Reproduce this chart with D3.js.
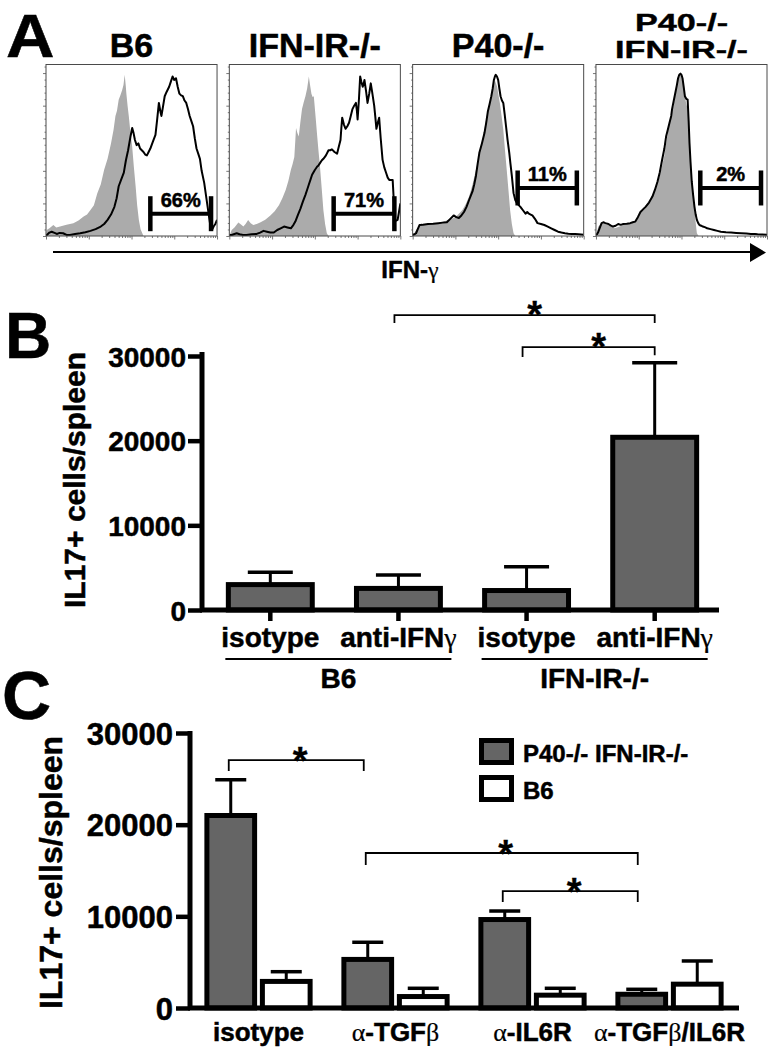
<!DOCTYPE html>
<html><head><meta charset="utf-8">
<script src="https://cdn.jsdelivr.net/npm/d3@7"></script>
<style>
body{margin:0;background:#fff}
svg{display:block}
text{font-family:"Liberation Sans",Arial,sans-serif;font-weight:bold;fill:#000;stroke:#000;stroke-width:0.5px}
</style>
</head><body>
<svg id="fig" width="775" height="1056"></svg>
<script>
// ---------------- Panel A data (flow histograms, x = % of log axis, y = % of max) -------------
const histTitles = [["B6"], ["IFN-IR-/-"], ["P40-/-"], ["P40-/-", "IFN-IR-/-"]];
const gateLabels = ["66%", "71%", "11%", "2%"];
const gateRanges = [[61, 96.5], [61, 96.5], [61.4, 96], [61, 96.5]];
const gateLevels = [13, 13, 28, 28];
const histYTicks = [0, 19, 38, 57, 76, 95];
const axisALabel = "IFN-γ";

const grayHist = [
  [[0,0],[0.4,3.5],[2,4.5],[4.3,6.4],[6,5],[8.2,5.5],[12,6.5],[16,7.4],[19,9],[22,11.3],[24,12.5],[26,15.2],[28,18],[30,25],[32,30],[34,38.6],[36,45],[38,54],[39.5,62],[40.6,70],[41.5,73],[42.5,79.5],[43.5,82],[44.5,85],[45.3,88],[46,94],[46.6,88],[47,83],[47.7,76],[48.4,70],[49.4,60],[50.4,52],[51.4,40],[52.4,29],[53.3,18],[54.3,9.4],[55.3,4],[56.3,1.6],[57,0]],
  [[0,0],[1.4,3.5],[3,5],[5.3,7.8],[7,6.5],[8.2,5.5],[9.5,7],[11,9.4],[12.5,7.5],[14,6.4],[16,7],[18,7.8],[21,9.5],[24,12],[26.5,14.5],[29,18],[31,22],[33,27],[34.5,32],[36,38.6],[37,42],[38,46],[38.6,56],[39,63],[39.8,60],[40.6,58],[41.5,66],[42.5,74],[43.5,78],[44.5,81.5],[45.5,86],[46.5,93],[47.2,88],[48,83],[48.7,81],[49.4,81.5],[50.4,70],[51.4,58],[52.2,49],[53,40.5],[54,28],[55,15],[56,7],[57,1.6],[58,0]],
  [[0,0],[2,3.5],[3.5,5.5],[5,7.5],[7,6.5],[9,6.5],[12,7.2],[15,7.5],[18,8.5],[21,9.4],[23,10],[25,11],[27,13],[29,15],[31,18.5],[33,23],[35,30],[37,38.6],[38.5,45],[40,52],[41.5,60],[43,68],[44,73],[45,77.6],[45.8,81],[46.5,85],[47.2,88],[48,91],[48.7,89],[49.4,87],[50.2,82],[51,77.6],[52,70],[53,62],[54,50],[55,38.6],[56,27],[57,15],[58,7],[59,1.6],[60,0]],
  [[0,0],[1.4,5.5],[3,7],[4.3,7.5],[5.8,6.8],[7.3,6.4],[9,5.5],[11,4.5],[13,5.2],[15,6],[17.5,6.8],[20,7.5],[22,8.5],[24,9.4],[25,12],[26,14],[27.5,15.5],[29,17],[31,19.5],[33,23],[34.5,27],[36,31],[37.3,35],[38.6,40.5],[40,47],[41,54],[42,60],[42.5,64],[43.5,68],[44.5,72],[45.5,77],[46.5,83],[47.3,88],[48,91],[48.7,93],[49.4,94],[50,93],[50.6,91],[51.3,86],[52,81.5],[52.8,77],[53.6,74],[54.3,62],[55,48.5],[56,35],[56.9,25],[57.5,17],[58,11],[58.5,6],[59,1.6],[60,0]]
];
const blackHist = [
  [[0,0.6],[0.5,0.6],[2,2],[3.3,2.5],[5,1.8],[6.3,1.2],[8,1.8],[10,1.6],[12,0.6],[14,0.6],[17,1.2],[20,1.6],[23,2.2],[26,3],[29,4],[32,5.5],[34,7],[36,9.4],[38,12.5],[40,17],[41.3,22],[42.5,29],[44,33],[45.5,37],[46.7,44],[48,50],[49.4,58],[50.4,63],[51.2,60],[52,56],[53,53],[54,54],[55,51],[56,50],[57,49],[58,47.5],[59,47],[60,49],[61,51],[62.5,55],[64,59],[65,68],[66,77.6],[67,72],[67.5,70],[68.5,76],[69.4,81.5],[70.5,84],[72,87],[73,90],[74,93],[75,91],[76,92],[77,87],[78,83],[79,82],[80,81.5],[81,79],[82,77.6],[83,74],[84,70],[85,67],[86,64],[87,57],[88,51],[89,48],[90,45],[91,38],[92.5,31],[93.5,24],[94.5,17],[95.5,10],[96.5,3.5],[97.3,4],[98,5.5],[99,7],[100,9.4]],
  [[0,0.6],[1.4,0.6],[3,1.2],[4.3,1.6],[6,1],[8,0.6],[10,0.6],[13,1],[16,1.2],[18,2],[20,3],[22,2.5],[24,2],[26,2],[28,3.5],[30,4.5],[32,5.5],[34,5],[36,4.5],[37.5,6.5],[38.6,8.4],[40,12],[41.6,16],[43,20],[44.5,24],[45.5,27],[46.5,30],[47.5,33],[48.4,35.7],[50,38.5],[51.4,40.5],[52,41],[53,42.5],[54,44],[55,45],[56.5,47],[58,50],[59,50],[60,50.5],[61.5,49],[63,48],[64,52],[65,56],[65.5,63],[66,69],[67,65],[68,62.5],[69,64],[70,66],[71,70],[72,74],[73,76],[74,77.6],[74.6,73],[75,68],[75.8,80],[76.5,93],[77.2,90],[78,87],[78.6,89],[79,91],[80,84],[80.8,77.6],[81.8,83],[82.7,89],[83.5,84],[84.7,76],[85.3,70],[86,62.5],[86.8,66],[87.6,69],[88.5,57],[89.6,44.4],[90.6,40],[91.6,37],[92.6,34],[93.5,32.7],[94.5,32.7],[95.5,32.7],[96.2,20],[96.9,9.4],[97.6,9],[98.4,9.4],[99.2,14],[100,19]],
  [[0,0.6],[1,1],[2,1.6],[3,4],[4,6.4],[6,6.5],[9,7],[12,7.2],[15,7.5],[17.5,7.8],[20,8],[22,10],[24,12],[25.5,11],[27,10.5],[28.5,12],[30,14],[31.5,17],[33,21],[34,23.5],[35,26],[36,30],[37,35],[38,42],[39,48.5],[40.5,54],[42,60],[43,66],[44,72.8],[45,77],[46,81.5],[46.8,86],[47.5,91],[48.1,93],[48.6,94],[49.3,93],[50,91],[50.7,86],[51.4,81.5],[52.2,79],[53,77.6],[53.8,71],[54.6,64],[55.5,56],[56.5,48.5],[57.2,42],[58,35],[59,25],[60,21],[61,19],[62,18],[63,17],[64.5,15],[66,13],[67,14],[68,13],[69,12.5],[70,12],[71.5,10],[73,7.5],[75,7],[77,6.4],[79,5.5],[81,4.5],[83,3.5],[85,2.5],[87,2],[89,1.6],[91,1.3],[93,1.2],[95,1.1],[97,1],[100,0.8]],
  [[0,0.6],[0.7,1.2],[1.4,2.5],[2.5,5.5],[3.3,7.5],[4.3,8],[5.5,7.5],[7.3,7],[8.5,6.2],[10,5.5],[11.5,6],[13,7],[14.5,6.5],[16,7],[18,7.2],[20,7.5],[21.5,8],[23,8.4],[24.5,11],[26,14],[27.5,15.5],[29,17],[31,19.5],[33,23],[34.5,27],[36,31.8],[37.3,37],[38.6,44],[40,51],[41,58],[42,62],[43,66],[44,70],[44.5,74],[45.5,79],[46.5,84],[47.3,88],[48,92],[48.7,94],[49.4,94.7],[50,94],[50.6,92],[51.3,87],[52,81.5],[52.8,80],[53.6,79.5],[54.2,67],[54.7,54],[55.3,43],[56,31.8],[56.8,24],[57.6,17],[58.3,12.5],[59,9.4],[59.8,7.5],[60.5,6.4],[61.5,6],[62.5,5.5],[64,5],[65,4.5],[67,4],[69,3.5],[71,3],[73,2.5],[76,2.2],[79,2],[82,1.8],[85,1.6],[88,1.4],[90.6,1.2],[93,1.1],[94.5,1],[97,0.9],[100,0.8]]
];

// ---------------- Panel B data ----------------
const bCategories = ["isotype", "anti-IFNγ", "isotype", "anti-IFNγ"];
const bGroups = ["B6", "IFN-IR-/-"];
const bGroupMembers = [[0, 1], [2, 3]];
const bMeans = [3000, 2550, 2300, 20400];
const bErrTop = [4470, 4120, 5100, 29200];
const bSig = [ // [fromIndex, toIndex, level, leftLeg, rightLeg]
  [1, 3, 34830, 33890, 33890],
  [2, 3, 31050, 29870, 30100]
];
const yTicks = [0, 10000, 20000, 30000];
const yLabel = "IL17+ cells/spleen";

// ---------------- Panel C data ----------------
const cCategories = ["isotype", "α-TGFβ", "α-IL6R", "α-TGFβ/IL6R"];
const cSeries = ["P40-/- IFN-IR-/-", "B6"];
const cMeansP40 = [21000, 5300, 9650, 1500];
const cMeansB6 = [2900, 1250, 1400, 2600];
const cErrP40 = [24900, 7170, 10580, 2040];
const cErrB6 = [3960, 2150, 2150, 5130];
const cSig = [ // [fromCat, toCat, level, leftLeg, rightLeg] (P40 bars)
  [0, 1, 27050, 25850, 25850],
  [1, 3, 16910, 15600, 15600],
  [2, 3, 12760, 11560, 11560]
];

// ---------------- helpers ----------------
const svg = d3.select("#fig");
svg.append("rect").attr("width", 775).attr("height", 1056).attr("fill", "#fff");

function mixed(sel, str) {
  str.split(/([αβγ]+)/).filter(s => s.length).forEach(p => {
    const t = sel.append("tspan").text(p);
    if (/^[αβγ]+$/.test(p)) t.style("font-family", "'Liberation Serif', 'Times New Roman', serif")
      .style("font-weight", "normal").style("stroke-width", "0.2px");
  });
  return sel;
}
function star(x, y) {
  svg.append("text").attr("x", x).attr("y", y).attr("text-anchor", "middle")
    .attr("font-size", 38).style("stroke-width", "0.3px").text("*");
}

// ---------------- Panel letters ----------------
svg.append("text").attr("transform", "translate(6,57) scale(1.1,1)").attr("font-size", 61).text("A");
svg.append("text").attr("x", 5).attr("y", 358).attr("font-size", 64).text("B");
svg.append("text").attr("x", 2).attr("y", 719).attr("font-size", 68).text("C");

// ---------------- Panel A ----------------
const boxBand = d3.scaleBand().domain(d3.range(4)).range([46, 767]).paddingInner(0.067);
const boxTop = 64.5, boxBottom = 236;
const defs = svg.append("defs");

histTitles.forEach((lines, i) => {
  const x0 = boxBand(i), w = boxBand.bandwidth();
  const hx = d3.scaleLinear().domain([0, 100]).range([x0, x0 + w]);
  const hy = d3.scaleLinear().domain([0, 100]).range([boxBottom, boxTop]);
  const cid = "clipA" + i;
  defs.append("clipPath").attr("id", cid).append("rect")
    .attr("x", x0).attr("y", boxTop).attr("width", w).attr("height", boxBottom - boxTop);
  const g = svg.append("g");
  const area = d3.area().x(d => hx(d[0])).y0(hy(0)).y1(d => hy(d[1]));
  g.append("path").datum(grayHist[i]).attr("d", area).attr("fill", "#ababab")
    .attr("clip-path", `url(#${cid})`);
  const line = d3.line().x(d => hx(d[0])).y(d => hy(d[1]));
  g.append("path").datum(blackHist[i]).attr("d", line).attr("fill", "none")
    .attr("stroke", "#000").attr("stroke-width", 2).attr("stroke-linejoin", "round")
    .attr("clip-path", `url(#${cid})`);
  g.append("rect").attr("x", x0).attr("y", boxTop).attr("width", w).attr("height", boxBottom - boxTop)
    .attr("fill", "none").attr("stroke", "#4a4a4a").attr("stroke-width", 1);

  // left ticks (major + minor)
  const minor = d3.range(0, 100, 19 / 5).filter(v => !histYTicks.some(t => Math.abs(t - v) < 0.5));
  const la = g.append("g").attr("transform", `translate(${x0},0)`)
    .call(d3.axisLeft(hy).tickValues(histYTicks).tickSize(3).tickSizeOuter(0).tickFormat(""));
  const lm = g.append("g").attr("transform", `translate(${x0},0)`)
    .call(d3.axisLeft(hy).tickValues(minor).tickSize(1.5).tickSizeOuter(0).tickFormat(""));
  // bottom log ticks
  const lx = d3.scaleLog().domain([1, 1e4]).range([x0, x0 + w]);
  const all = lx.ticks();
  const majors = all.filter(v => Math.abs(Math.log10(v) - Math.round(Math.log10(v))) < 1e-9);
  const minors = all.filter(v => !majors.includes(v));
  const ba = g.append("g").attr("transform", `translate(0,${boxBottom})`)
    .call(d3.axisBottom(lx).tickValues(majors).tickSize(3.5).tickSizeOuter(0).tickFormat(""));
  const bm = g.append("g").attr("transform", `translate(0,${boxBottom})`)
    .call(d3.axisBottom(lx).tickValues(minors).tickSize(2).tickSizeOuter(0).tickFormat(""));
  [la, lm, ba, bm].forEach(a => { a.select(".domain").remove(); a.selectAll("line").attr("stroke", "#555").attr("stroke-width", 0.8); });

  // gate
  const gy = hy(gateLevels[i]);
  const ga = hx(gateRanges[i][0]), gb = hx(gateRanges[i][1]);
  g.append("line").attr("x1", ga).attr("x2", gb).attr("y1", gy).attr("y2", gy).attr("stroke", "#000").attr("stroke-width", 4);
  [ga, gb].forEach(xx => g.append("line").attr("x1", xx).attr("x2", xx).attr("y1", gy - 17.5).attr("y2", gy + 17.5)
    .attr("stroke", "#000").attr("stroke-width", 4.5));
  g.append("text").attr("x", (ga + gb) / 2).attr("y", gy - 7).attr("text-anchor", "middle")
    .attr("font-size", 20).text(gateLabels[i]);

  // title
  const cx = x0 + w / 2;
  if (lines.length === 1) {
    svg.append("text").attr("x", cx).attr("y", 57).attr("text-anchor", "middle").attr("font-size", 34).text(lines[0]);
  } else {
    lines.forEach((l, k) => {
      svg.append("text").attr("transform", `translate(${cx},${31 + k * 27}) scale(1.14,0.8)`)
        .attr("text-anchor", "middle").attr("font-size", 30).text(l);
    });
  }
});
// shared IFN-γ arrow axis
svg.append("line").attr("x1", 53).attr("x2", 752).attr("y1", 252).attr("y2", 252).attr("stroke", "#000").attr("stroke-width", 2);
svg.append("path").attr("d", "M750,243 L766,252.5 L750,262 Z").attr("fill", "#000");
mixed(svg.append("text").attr("x", 410).attr("y", 278).attr("text-anchor", "middle").attr("font-size", 24), axisALabel);

// ---------------- Panel B ----------------
const yB = d3.scaleLinear().domain([0, 30000]).range([610, 356]);
const xB = d3.scaleBand().domain(d3.range(4)).range([204, 721]).paddingInner(0.345).paddingOuter(0.19);
const gB = svg.append("g");
// y axis
const axB = gB.append("g").attr("transform", "translate(202,0)")
  .call(d3.axisLeft(yB).tickValues(yTicks).tickSize(14).tickSizeOuter(0).tickPadding(2).tickFormat(d3.format("d")));
axB.select(".domain").attr("stroke-width", 5).attr("d", `M0,${yB(0)}V352`);
axB.selectAll(".tick line").attr("stroke-width", 4.5);
axB.selectAll(".tick text").attr("font-size", 28).attr("font-family", "'Liberation Sans', Arial, sans-serif")
  .attr("font-weight", "bold").attr("dy", "0.36em");
axB.attr("font-family", null).attr("font-size", null);
// bars
bMeans.forEach((m, i) => {
  const cx = xB(i) + xB.bandwidth() / 2;
  gB.append("line").attr("x1", cx).attr("x2", cx).attr("y1", yB(m)).attr("y2", yB(bErrTop[i])).attr("stroke", "#000").attr("stroke-width", 3);
  gB.append("line").attr("x1", cx - 22.5).attr("x2", cx + 22.5).attr("y1", yB(bErrTop[i])).attr("y2", yB(bErrTop[i])).attr("stroke", "#000").attr("stroke-width", 3.5);
  gB.append("rect").attr("x", xB(i)).attr("y", yB(m)).attr("width", xB.bandwidth()).attr("height", yB(0) - yB(m))
    .attr("fill", "#656565").attr("stroke", "#000").attr("stroke-width", 5);
  // tick below axis
  gB.append("line").attr("x1", cx).attr("x2", cx).attr("y1", yB(0)).attr("y2", yB(0) + 11).attr("stroke", "#000").attr("stroke-width", 4.5);
  mixed(gB.append("text").attr("x", cx).attr("y", 647).attr("text-anchor", "middle").attr("font-size", 28), bCategories[i]);
});
gB.append("line").attr("x1", 200).attr("x2", 719).attr("y1", yB(0)).attr("y2", yB(0)).attr("stroke", "#000").attr("stroke-width", 5);
// group underlines
bGroups.forEach((gname, k) => {
  const [a, b] = bGroupMembers[k];
  const x1 = xB(a) - 3, x2 = xB(b) + xB.bandwidth() + 11;
  gB.append("line").attr("x1", x1).attr("x2", x2).attr("y1", 659).attr("y2", 659).attr("stroke", "#000").attr("stroke-width", 2);
  gB.append("text").attr("x", (x1 + x2) / 2).attr("y", 688).attr("text-anchor", "middle").attr("font-size", 28).text(gname);
});
// y label
gB.append("text").attr("transform", `translate(85,${yB(15000) - 3}) rotate(-90)`).attr("text-anchor", "middle")
  .attr("font-size", 30).text(yLabel);
// significance
bSig.forEach(([a, b, lv, ll, rl]) => {
  const x1 = xB(a) + xB.bandwidth() / 2 - 4, x2 = xB(b) + xB.bandwidth() / 2;
  gB.append("path").attr("d", `M${x1},${yB(ll)}V${yB(lv)}H${x2}V${yB(rl)}`).attr("fill", "none").attr("stroke", "#000").attr("stroke-width", 1.8);
  star((x1 + x2) / 2 + 10, yB(lv) + 13);
});

// ---------------- Panel C ----------------
const yC = d3.scaleLinear().domain([0, 30000]).range([1008, 733]);
const xC = d3.scaleBand().domain(d3.range(4)).range([190, 738]).paddingInner(0.21).paddingOuter(0.105);
const xSub = d3.scaleBand().domain([0, 1]).range([0, xC.bandwidth()]).paddingInner(0.05);
const gC = svg.append("g");
const axC = gC.append("g").attr("transform", "translate(190,0)")
  .call(d3.axisLeft(yC).tickValues(yTicks).tickSize(14).tickSizeOuter(0).tickPadding(3).tickFormat(d3.format("d")));
axC.select(".domain").attr("stroke-width", 5).attr("d", `M0,${yC(0)}V${yC(30000) - 2}`);
axC.selectAll(".tick line").attr("stroke-width", 4.5);
axC.selectAll(".tick text").attr("font-size", 31).attr("font-family", "'Liberation Sans', Arial, sans-serif")
  .attr("font-weight", "bold").attr("dy", "0.36em");
axC.attr("font-family", null).attr("font-size", null);

const cMeans = [cMeansP40, cMeansB6];
const cErrs = [cErrP40, cErrB6];
const cFills = ["#656565", "#ffffff"];
const cBarCenter = (i, s) => xC(i) + xSub(s) + xSub.bandwidth() / 2;
cCategories.forEach((cat, i) => {
  [0, 1].forEach(s => {
    const m = cMeans[s][i], e = cErrs[s][i];
    const cx = cBarCenter(i, s);
    gC.append("line").attr("x1", cx).attr("x2", cx).attr("y1", yC(m)).attr("y2", yC(e)).attr("stroke", "#000").attr("stroke-width", 3);
    gC.append("line").attr("x1", cx - 15.5).attr("x2", cx + 15.5).attr("y1", yC(e)).attr("y2", yC(e)).attr("stroke", "#000").attr("stroke-width", 3.5);
    gC.append("rect").attr("x", xC(i) + xSub(s) + 2.5).attr("y", yC(m))
      .attr("width", xSub.bandwidth() - 5).attr("height", yC(0) - yC(m))
      .attr("fill", cFills[s]).attr("stroke", "#000").attr("stroke-width", 5);
  });
  mixed(gC.append("text").attr("x", xC(i) + xC.bandwidth() / 2).attr("y", 1041).attr("text-anchor", "middle").attr("font-size", 26), cat);
});
gC.append("line").attr("x1", 188).attr("x2", 739).attr("y1", yC(0)).attr("y2", yC(0)).attr("stroke", "#000").attr("stroke-width", 5);
gC.append("text").attr("transform", `translate(62,${yC(15000) + 2}) rotate(-90)`).attr("text-anchor", "middle")
  .attr("font-size", 32).text(yLabel);
// legend
cSeries.forEach((name, s) => {
  const ly = 740.5 + s * 37;
  gC.append("rect").attr("x", 481.5).attr("y", ly).attr("width", 30).attr("height", 22)
    .attr("fill", cFills[s]).attr("stroke", "#000").attr("stroke-width", 5);
  gC.append("text").attr("x", 523).attr("y", ly + 21.5).attr("font-size", 24).text(name);
});
// significance
cSig.forEach(([a, b, lv, ll, rl]) => {
  const x1 = cBarCenter(a, 0) - 2, x2 = cBarCenter(b, 0) - 4;
  gC.append("path").attr("d", `M${x1},${yC(ll)}V${yC(lv)}H${x2}V${yC(rl)}`).attr("fill", "none").attr("stroke", "#000").attr("stroke-width", 1.8);
  star((x1 + x2) / 2 + 4, yC(lv) + 14);
});
</script>
</body></html>
